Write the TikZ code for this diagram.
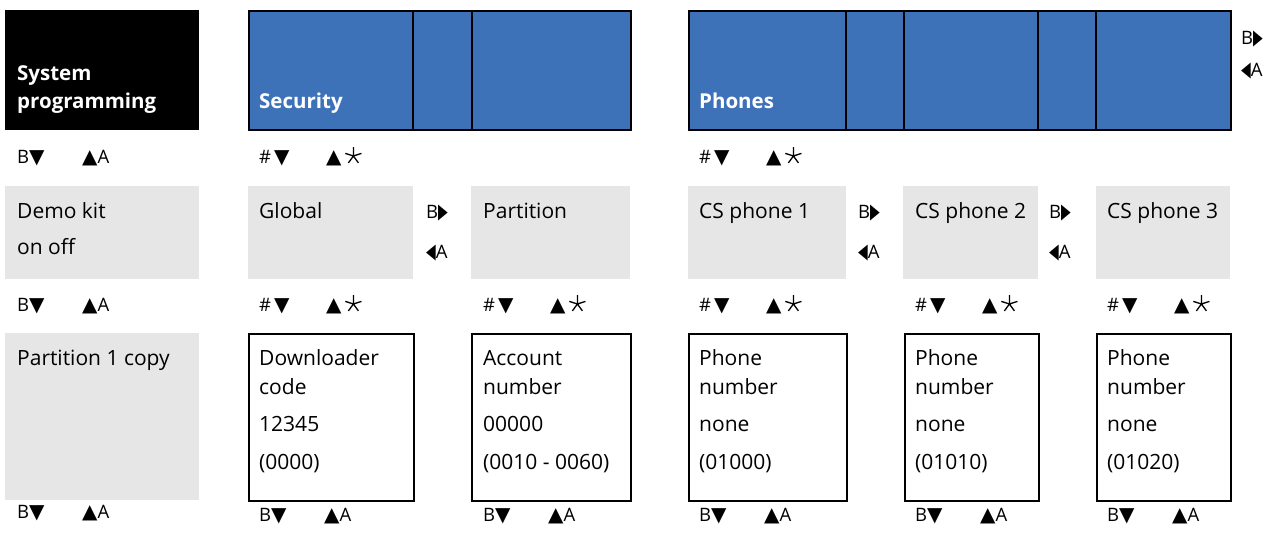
\documentclass[tikz,border=0pt]{standalone}
\usepackage{fontspec}
\setmainfont{Open Sans}
\newfontfamily\symfont{DejaVu Sans}
\definecolor{barblue}{HTML}{3D71B8}
\definecolor{boxgray}{HTML}{E6E6E6}
\newcommand{\tridn}{{\symfont\fontsize{20}{20}\selectfont ▼}}
\newcommand{\triup}{{\symfont\fontsize{20}{20}\selectfont ▲}}
\newcommand{\trirt}{{\symfont\fontsize{21}{21}\selectfont\scalebox{0.6}[1]{▶}}}
\newcommand{\trilf}{{\symfont\fontsize{21}{21}\selectfont\scalebox{0.6}[1]{◀}}}
\newcommand{\keystar}{\tikz[x=1pt,y=1pt,baseline=0pt]
	\draw[line width=1.3pt] (8,7) -- +(90:9) (8,7) -- +(18:8.5) (8,7) -- +(162:8.5)
		(8,7) -- +(234:8.5) (8,7) -- +(306:8.5);}

\begin{document}
\begin{tikzpicture}
	[x=1pt,y=-1pt,
	box/.style={anchor=north west,inner sep=0pt,minimum height=#1},
	bar/.style={anchor=north west,inner sep=0pt,minimum height=119pt,fill=barblue,draw=black,line width=2pt},
	grey/.style={anchor=north west,inner sep=0pt,minimum height=93pt,fill=boxgray},
	field/.style={anchor=north west,inner sep=0pt,minimum height=167pt,draw=black,line width=2pt},
	txt/.style={anchor=base west,inner sep=0pt,font=\fontsize{21}{25}\selectfont},
	head/.style={anchor=base west,inner sep=0pt,text=white,font=\fontsize{20.5}{24}\selectfont\bfseries},
	key/.style={anchor=base west,inner sep=0pt,font=\fontsize{18.5}{22}\selectfont}]

	\useasboundingbox (0,0) rectangle (1277,533);

	% top row
	\node[box=120pt,fill=black,minimum width=194pt] (sysprog) at (5,10) {};
	\node[head] (sys1) at (17,80) {System};
	\node[head] (sys2) at (17,108) {programming};

	\node[bar,minimum width=382pt] (security) at (248,10) {};
	\draw[line width=2pt] (413,10) -- (413,129) (472,10) -- (472,129);
	\node[head] (sec) at (259,108) {Security};

	\node[bar,minimum width=542pt] (phones) at (688,10) {};
	\foreach \x in {846,904,1038,1096}
		\draw[line width=2pt] (\x,10) -- (\x,129);
	\node[head] (pho) at (699,108) {Phones};

	\node[key] (topb) at (1241,44) {B\trirt};
	\node[key] (topa) at (1241,76) {\trilf A};

	% keys under the top row
	\node[key] (k1l) at (17,163) {B\tridn};
	\node[key] (k1r) at (82,163) {\triup A};
	\foreach \x/\n in {259/s,699/p} {
		\node[key] (k1\n l) at (\x,163) {\#\,\tridn};
		\node[key] (k1\n r) at (\x+67,163) {\triup\,\keystar};
	}

	% middle row
	\node[grey,minimum width=194pt] (demokit) at (5,186) {};
	\node[txt] (demo1) at (17,218) {Demo kit};
	\node[txt] (demo2) at (17,254) {on off};
	\node[grey,minimum width=165pt] (global) at (248,186) {};
	\node[txt] (glob) at (259,218) {Global};
	\node[grey,minimum width=159pt] (partition) at (471,186) {};
	\node[txt] (part) at (483,218) {Partition};
	\node[grey,minimum width=158pt] (csphone1) at (688,186) {};
	\node[txt] (cs1) at (699,218) {CS phone 1};
	\node[grey,minimum width=135pt] (csphone2) at (903,186) {};
	\node[txt] (cs2) at (915,218) {CS phone 2};
	\node[grey,minimum width=134pt] (csphone3) at (1096,186) {};
	\node[txt] (cs3) at (1107,218) {CS phone 3};

	\foreach \x/\n in {426/g,858/p,1049/q} {
		\node[key] (mb\n) at (\x,218) {B\trirt};
		\node[key] (ma\n) at (\x,258) {\trilf A};
	}

	% keys under the middle row
	\node[key] (k2l) at (17,311) {B\tridn};
	\node[key] (k2r) at (82,311) {\triup A};
	\foreach \x/\n in {259/a,483/b,699/c,915/d,1107/e} {
		\node[key] (k2\n l) at (\x,311) {\#\,\tridn};
		\node[key] (k2\n r) at (\x+67,311) {\triup\,\keystar};
	}

	% bottom row
	\node[box=167pt,fill=boxgray,minimum width=194pt] (partcopy) at (5,333) {};
	\node[txt] (pcopy) at (17,365) {Partition 1 copy};

	\node[field,minimum width=165pt] (dlcode) at (248,333) {};
	\node[txt] (dl1) at (259,365) {Downloader};
	\node[txt] (dl2) at (259,394) {code};
	\node[txt] (dl3) at (259,431) {12345};
	\node[txt] (dl4) at (259,469) {(0000)};

	\node[field,minimum width=159pt] (acctnum) at (471,333) {};
	\node[txt] (ac1) at (483,365) {Account};
	\node[txt] (ac2) at (483,394) {number};
	\node[txt] (ac3) at (483,431) {00000};
	\node[txt] (ac4) at (483,469) {(0010 - 0060)};

	\foreach \x/\w/\a/\n in {688/158/01000/1,904/134/01010/2,1096/134/01020/3} {
		\node[field,minimum width=\w pt] (phnum\n) at (\x,333) {};
		\node[txt] (ph\n a) at (\x+11,365) {Phone};
		\node[txt] (ph\n b) at (\x+11,394) {number};
		\node[txt] (ph\n c) at (\x+11,431) {none};
		\node[txt] (ph\n d) at (\x+11,469) {(\a)};
	}

	% keys under the bottom row
	\node[key] (k3l) at (17,518) {B\tridn};
	\node[key] (k3r) at (82,518) {\triup A};
	\foreach \x/\n in {259/a,483/b,699/c,915/d,1107/e} {
		\node[key] (k3\n l) at (\x,521) {B\tridn};
		\node[key] (k3\n r) at (\x+65,521) {\triup A};
	}
\end{tikzpicture}
\end{document}
